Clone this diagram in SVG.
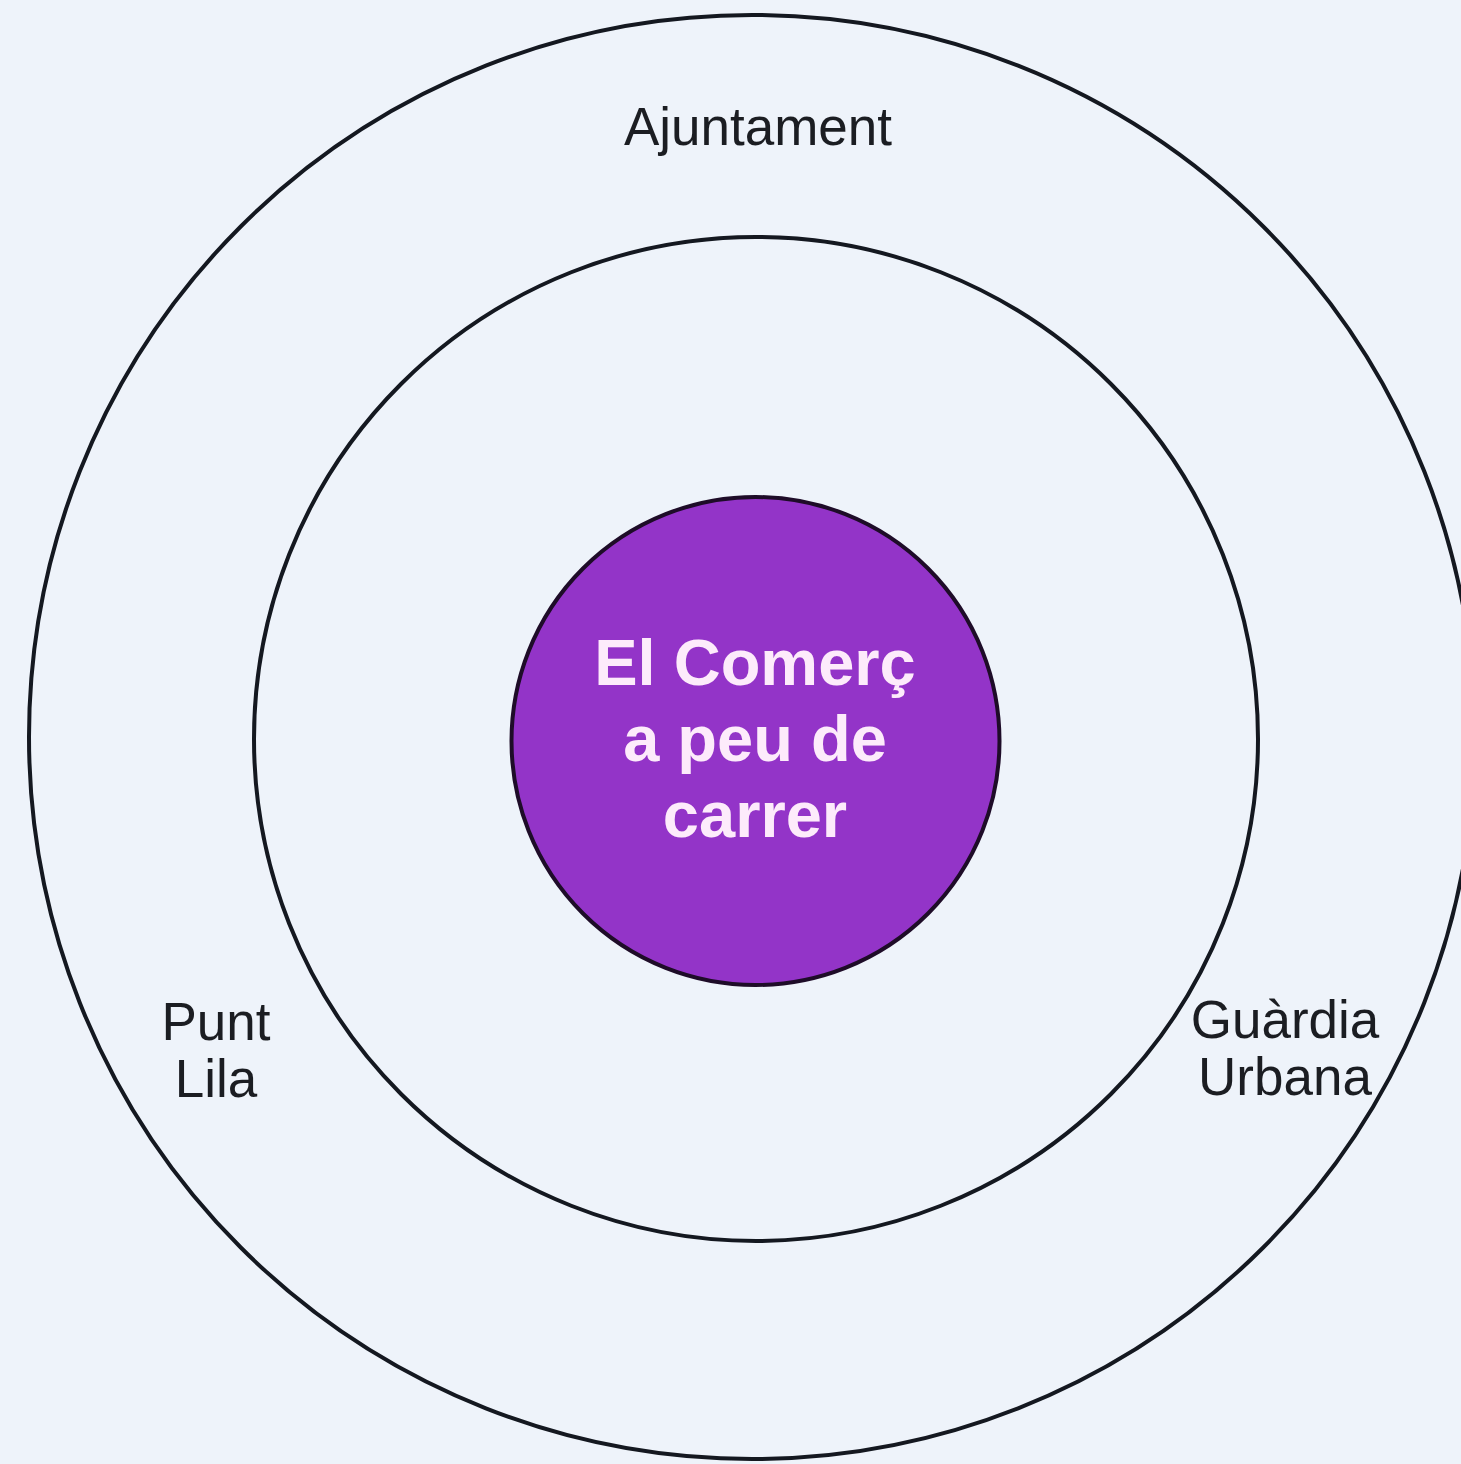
<svg xmlns="http://www.w3.org/2000/svg" width="1461" height="1464" viewBox="0 0 1461 1464">
<style>
.ring{fill:none;stroke:#141820;stroke-width:4}
.lbl{font-family:"Liberation Sans",Arial,sans-serif;font-size:53px;fill:#1b1d22;text-anchor:middle}
.core{font-family:"Liberation Sans",Arial,sans-serif;font-size:65px;font-weight:bold;fill:#fdebfb;text-anchor:middle}
</style>
<rect width="1461" height="1464" fill="#eef3fa"/>
<g id="outer-ring">
<ellipse class="ring" cx="752" cy="737" rx="723" ry="722"/>
<text class="lbl" x="758" y="145">Ajuntament</text>
</g>
<g id="middle-ring">
<circle class="ring" cx="756" cy="739" r="502"/>
</g>
<g id="punt-lila">
<text class="lbl" x="216" y="1040">Punt</text>
<text class="lbl" x="216" y="1097">Lila</text>
</g>
<g id="guardia-urbana">
<text class="lbl" x="1285" y="1038">Guàrdia</text>
<text class="lbl" x="1285" y="1095">Urbana</text>
</g>
<g id="core">
<circle cx="755.5" cy="741" r="244" fill="#9334c8" stroke="#1e0c28" stroke-width="4"/>
<text class="core" x="755" y="685">El Comerç</text>
<text class="core" x="755" y="761">a peu de</text>
<text class="core" x="755" y="837">carrer</text>
</g>
<g id="connectors"/>
</svg>
